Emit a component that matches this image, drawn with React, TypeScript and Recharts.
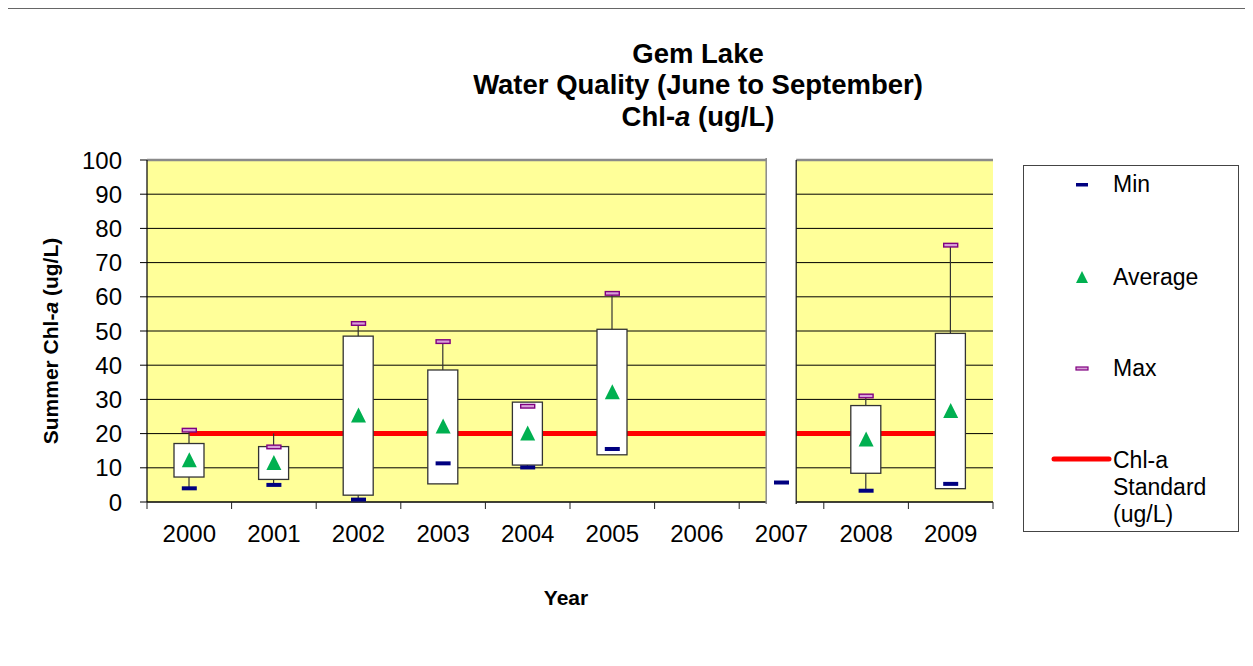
import React from 'react';
import {
  ComposedChart,
  Bar,
  Line,
  Scatter,
  XAxis,
  YAxis,
  CartesianGrid,
  ReferenceLine,
  Legend,
  Label,
} from 'recharts';

// ---------- data ----------
const years = ['2000', '2001', '2002', '2003', '2004', '2005', '2006', '2007', '2008', '2009'];
const boxLow = [7.3, 6.6, 2.0, 5.3, 10.8, 13.8, null, null, 8.4, 3.9];
const boxHigh = [17.1, 16.2, 48.5, 38.6, 29.2, 50.5, null, null, 28.2, 49.3];
const whiskerLow = [4.0, 5.0, 0.7, 5.3, 10.1, 13.8, null, null, 3.3, 3.9];
const whiskerHigh = [21.0, 20.0, 52.2, 46.9, 29.2, 61.0, null, null, 31.0, 75.1];
const minVals = [4.0, 5.0, 0.7, 11.3, 10.1, 15.5, null, 5.7, 3.3, 5.3];
const avgVals = [12.2, 11.4, 25.3, 22.1, 20.0, 32.1, null, null, 18.3, 26.6];
const maxVals = [21.0, 16.1, 52.2, 46.9, 28.0, 61.0, null, null, 31.0, 75.1];
const standardVals = [20, 20, 20, 20, 20, 20, 20, 20, 20, 20];
const gapYears = ['2007'];
const gapRange = [0, 100];
const yTicks = [0, 10, 20, 30, 40, 50, 60, 70, 80, 90, 100];
const legendNames = ['Min', 'Average', 'Max', 'Chl-a Standard (ug/L)'];

const data = years.map((year, i) => ({
  year,
  box: boxLow[i] == null ? null : [boxLow[i], boxHigh[i]],
  whisker: whiskerLow[i] == null ? null : [whiskerLow[i], whiskerHigh[i]],
  gap: gapYears.includes(year) ? gapRange : null,
  min: minVals[i],
  avg: avgVals[i],
  max: maxVals[i],
  std: standardVals[i],
}));

// ---------- styles ----------
const FONT = '"Liberation Sans", Arial, Helvetica, sans-serif';
const C_MIN = '#000080';
const C_MAX = '#800080';
const C_MAX_FILL = '#D8A0D8';
const C_AVG = '#00B050';
const C_STD = '#FF0000';
const C_PLOT = '#FFFF99';
const X_TICK_SIZE = 8;
const X_TICK_MARGIN = 15;
const X_TICK_MARK = 7;

// ---------- shapes ----------
const WhiskerShape = (p: any) => {
  if (!p || !p.payload || p.payload.whisker == null) return <g />;
  const cx = p.x + p.width / 2;
  return <line x1={cx} x2={cx} y1={p.y} y2={p.y + p.height} stroke="#333" strokeWidth={1.2} />;
};

const BoxShape = (p: any) => {
  if (!p || !p.payload || p.payload.box == null) return <g />;
  return (
    <rect x={p.x} y={p.y} width={p.width} height={p.height} fill="#ffffff" stroke="#333" strokeWidth={1.3} />
  );
};

const GapShape = (p: any) => {
  if (!p || !p.payload || p.payload.gap == null) return <g />;
  return (
    <g>
      <rect x={p.x} y={p.y - 3} width={p.width} height={p.height + 6} fill="#ffffff" />
      <line x1={p.x} x2={p.x} y1={p.y - 2} y2={p.y + p.height + 2} stroke="#8a8a8a" strokeWidth={1.5} />
      <line x1={p.x + p.width} x2={p.x + p.width} y1={p.y} y2={p.y + p.height + 2} stroke="#111" strokeWidth={1.2} />
    </g>
  );
};

const MinShape = (p: any) => {
  if (!p || !p.payload || p.payload.min == null) return <g />;
  return <rect x={p.cx - 7.5} y={p.cy - 2} width={15} height={4} fill={C_MIN} />;
};

const MaxShape = (p: any) => {
  if (!p || !p.payload || p.payload.max == null) return <g />;
  return (
    <rect x={p.cx - 7} y={p.cy - 1.8} width={14} height={3.6} fill={C_MAX_FILL} stroke={C_MAX} strokeWidth={1.4} />
  );
};

const AvgShape = (p: any) => {
  if (!p || !p.payload || p.payload.avg == null) return <g />;
  const { cx, cy } = p;
  return <polygon points={`${cx},${cy - 8} ${cx + 7.5},${cy + 7} ${cx - 7.5},${cy + 7}`} fill={C_AVG} />;
};

// X tick: category label plus tick marks on the category boundaries
const XTick = (props: any) => {
  const { x, y, payload, index, visibleTicksCount } = props;
  const half = payload && typeof payload.offset === 'number' && payload.offset > 0 ? payload.offset : 42.3;
  const axisY = y - X_TICK_SIZE - X_TICK_MARGIN;
  const isLast = index === (visibleTicksCount ?? years.length) - 1;
  return (
    <g>
      <line x1={x - half} x2={x - half} y1={axisY} y2={axisY + X_TICK_MARK} stroke="#222" strokeWidth={1} />
      {isLast && (
        <line x1={x + half} x2={x + half} y1={axisY} y2={axisY + X_TICK_MARK} stroke="#222" strokeWidth={1} />
      )}
      <text x={x} y={y} dy="0.71em" textAnchor="middle" fontFamily={FONT} fontSize={24} fill="#000">
        {payload.value}
      </text>
    </g>
  );
};

// ---------- legend ----------
const legendText: React.CSSProperties = {
  position: 'absolute',
  left: 89,
  fontFamily: FONT,
  fontSize: 23,
  lineHeight: '27px',
  color: '#000',
  whiteSpace: 'nowrap',
};

const renderLegend = () => {
  const stdWords = legendNames[3].split(' ');
  return (
    <div
      style={{
        position: 'relative',
        width: 216,
        height: 367,
        border: '1.5px solid #444',
        boxSizing: 'border-box',
        background: '#fff',
      }}
    >
      <svg width={216} height={367} style={{ position: 'absolute', left: 0, top: 0 }}>
        <rect x={52} y={17} width={12} height={3.5} fill={C_MIN} />
        <polygon points="58,105 64,117 52,117" fill={C_AVG} />
        <rect x={52} y={201} width={12} height={3} fill={C_MAX_FILL} stroke={C_MAX} strokeWidth={1.2} />
        <line x1={30} x2={85} y1={293} y2={293} stroke={C_STD} strokeWidth={5} strokeLinecap="round" />
      </svg>
      <div style={{ ...legendText, top: 5 }}>{legendNames[0]}</div>
      <div style={{ ...legendText, top: 98 }}>{legendNames[1]}</div>
      <div style={{ ...legendText, top: 189 }}>{legendNames[2]}</div>
      <div style={{ ...legendText, top: 281 }}>
        {stdWords[0]}
        <br />
        {stdWords[1]}
        <br />
        {stdWords[2]}
      </div>
    </div>
  );
};

// ---------- axis titles ----------
const YTitle = (props: any) => {
  const vb = props.viewBox || { x: 69, y: 152, width: 70, height: 342 };
  const x = vb.x - 27;
  const y = vb.y + vb.height / 2 + 10;
  return (
    <text
      x={x}
      y={y}
      transform={`rotate(-90, ${x}, ${y})`}
      textAnchor="middle"
      dominantBaseline="central"
      fontFamily={FONT}
      fontWeight="bold"
      fontSize={21}
      fill="#000"
    >
      <tspan>Summer Chl-</tspan>
      <tspan fontStyle="italic">a</tspan>
      <tspan> (ug/L)</tspan>
    </text>
  );
};

const XTitle = (props: any) => {
  const vb = props.viewBox || { x: 139, y: 494, width: 846, height: 40 };
  return (
    <text
      x={vb.x + vb.width / 2 - 4}
      y={vb.y + 103}
      textAnchor="middle"
      fontFamily={FONT}
      fontWeight="bold"
      fontSize={21}
      fill="#000"
    >
      Year
    </text>
  );
};

export default function App() {
  return (
    <div style={{ position: 'relative', width: 1245, height: 658 }}>
      <ComposedChart
        width={1245}
        height={658}
        data={data}
        margin={{ top: 152, right: 260, bottom: 124, left: 69 }}
      >
        <CartesianGrid
          horizontal={true}
          vertical={false}
          stroke="#000"
          strokeWidth={1}
          fill={C_PLOT}
          fillOpacity={1}
        />
        <XAxis
          xAxisId={0}
          dataKey="year"
          type="category"
          height={40}
          axisLine={{ stroke: '#000', strokeWidth: 1.2 }}
          tickLine={false}
          tickSize={X_TICK_SIZE}
          tickMargin={X_TICK_MARGIN}
          tick={<XTick />}
          interval={0}
        >
          <Label content={<XTitle />} />
        </XAxis>
        <XAxis xAxisId="w" dataKey="year" type="category" hide />
        <XAxis xAxisId="b" dataKey="year" type="category" hide />
        <XAxis xAxisId="g" dataKey="year" type="category" hide />
        <YAxis
          domain={[0, 100]}
          ticks={yTicks}
          width={70}
          axisLine={{ stroke: '#000', strokeWidth: 1.2 }}
          tickLine={{ stroke: '#000', strokeWidth: 1 }}
          tickSize={7}
          tickMargin={18}
          tick={{ fontSize: 24, fill: '#000', fontFamily: FONT }}
          interval={0}
        >
          <Label content={<YTitle />} />
        </YAxis>
        <YAxis
          yAxisId="r"
          orientation="right"
          width={0}
          domain={[0, 100]}
          tick={false}
          tickLine={false}
          axisLine={{ stroke: '#8a8a8a', strokeWidth: 2.5 }}
        />
        <ReferenceLine y={100} stroke="#8a8a8a" strokeWidth={2.5} />
        <Line
          xAxisId={0}
          dataKey="std"
          type="linear"
          stroke={C_STD}
          strokeWidth={5}
          dot={false}
          activeDot={false}
          legendType="none"
          isAnimationActive={false}
          zIndex={250}
        />
        <Bar
          xAxisId="w"
          dataKey="whisker"
          barSize={30}
          shape={WhiskerShape}
          legendType="none"
          isAnimationActive={false}
        />
        <Bar
          xAxisId="b"
          dataKey="box"
          barSize={30}
          shape={BoxShape}
          legendType="none"
          isAnimationActive={false}
        />
        <Bar
          xAxisId="g"
          dataKey="gap"
          barSize={30}
          shape={GapShape}
          legendType="none"
          isAnimationActive={false}
          zIndex={550}
        />
        <Scatter xAxisId={0} dataKey="min" name="Min" shape={MinShape} isAnimationActive={false} />
        <Scatter xAxisId={0} dataKey="max" name="Max" shape={MaxShape} isAnimationActive={false} />
        <Scatter xAxisId={0} dataKey="avg" name="Average" shape={AvgShape} isAnimationActive={false} />
        <Legend
          layout="vertical"
          align="center"
          verticalAlign="middle"
          wrapperStyle={{ left: 1015, top: 157, width: 216, height: 367 }}
          content={renderLegend}
        />
      </ComposedChart>
      <svg
        width={1245}
        height={150}
        style={{ position: 'absolute', left: 0, top: 0, pointerEvents: 'none' }}
      >
        <g fontFamily={FONT} fontWeight="bold" fontSize={27.5} fill="#000" textAnchor="middle">
          <text x={690} y={55}>Gem Lake</text>
          <text x={690} y={86}>Water Quality (June to September)</text>
          <text x={690} y={118}>
            <tspan>Chl-</tspan>
            <tspan fontStyle="italic">a</tspan>
            <tspan> (ug/L)</tspan>
          </text>
        </g>
      </svg>
      <div
        style={{
          position: 'absolute',
          left: -2,
          top: 0,
          width: 1247,
          height: 660,
          borderTop: '1.5px solid #666',
          borderLeft: '2px solid #888',
          pointerEvents: 'none',
        }}
      />
    </div>
  );
}
